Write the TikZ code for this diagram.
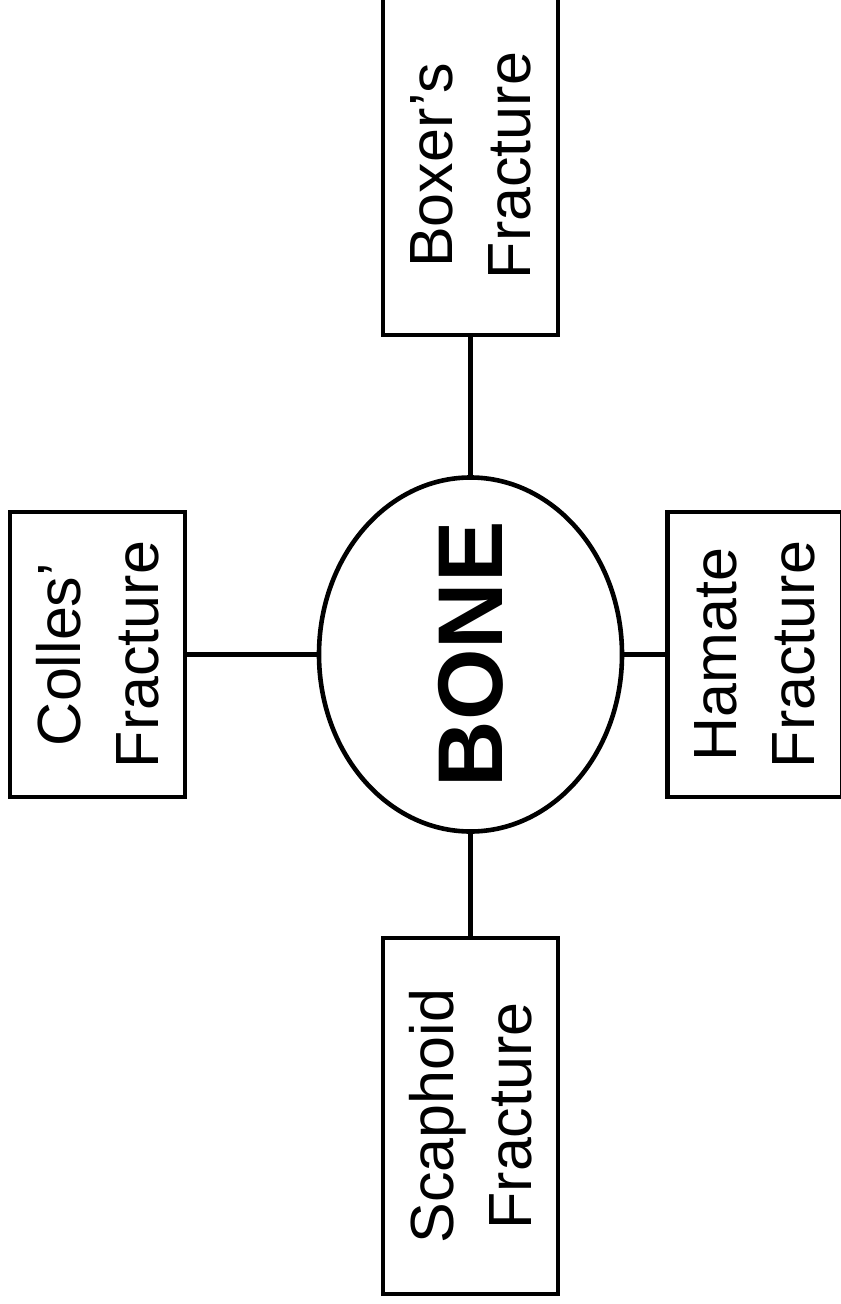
\documentclass[tikz,border=0pt]{standalone}
\usepackage{fontspec}
\setmainfont{Liberation Sans}
\usetikzlibrary{shapes.geometric}

\begin{document}
\begin{tikzpicture}[
  x=0.5pt, y=-0.5pt,
  every node/.style={rotate=90, inner sep=0pt, outer sep=0pt},
  fracbox/.style={draw, line width=2.3pt, align=center, minimum height=87.5pt,
                  font=\fontsize{30.5pt}{39pt}\selectfont},
  link/.style={line width=2.3pt}
]
\useasboundingbox (0,0) rectangle (840,1304);
\node[draw, ellipse, line width=2.3pt, inner xsep=-6pt, minimum width=177pt, minimum height=151.5pt,
      font=\fontsize{46pt}{50pt}\selectfont\bfseries] (bone) at (470.5,654.5) {BONE};
\node[fracbox, minimum width=169.5pt] (boxer) at (470.5,165.5) {Boxer’s\\Fracture};
\node[fracbox, minimum width=142.5pt] (colles) at (97.5,654.5) {Colles’\\Fracture};
\node[fracbox, minimum width=142.5pt] (hamate) at (755,654.5) {Hamate\\Fracture};
\node[fracbox, minimum width=178pt] (scaphoid) at (470.5,1116) {Scaphoid\\Fracture};
\draw[link] (bone) -- (boxer);
\draw[link] (bone) -- (colles);
\draw[link] (bone) -- (hamate);
\draw[link] (bone) -- (scaphoid);
\end{tikzpicture}
\end{document}
